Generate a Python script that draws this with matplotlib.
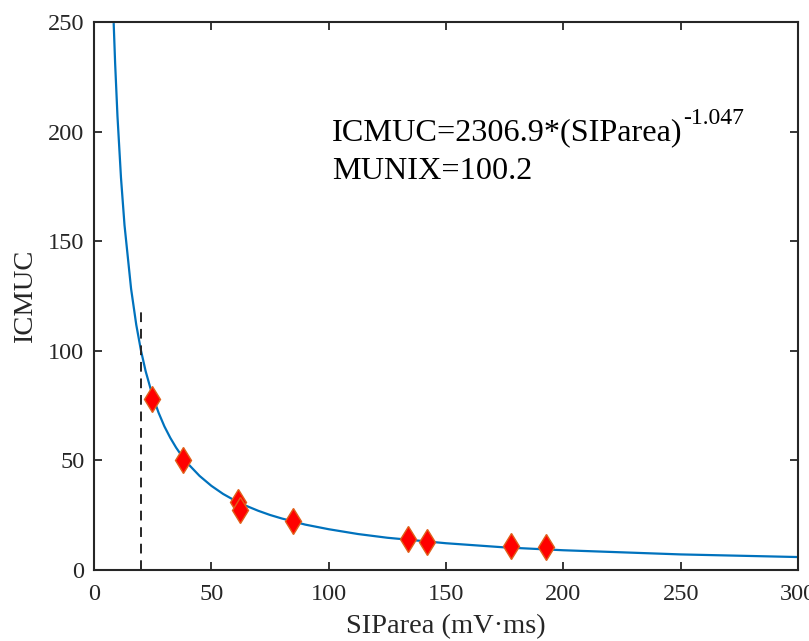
import matplotlib.pyplot as plt

plt.rcParams['font.family'] = ['Liberation Serif', 'DejaVu Serif']

# fitted curve
fit_x = [8.4, 9, 10, 11.5, 13, 15.8, 18, 20, 22, 25, 27.5, 30, 32.5, 35, 37.5,
         40, 45, 50, 55, 60, 65, 70, 75, 80, 90, 100, 112.5, 125, 150, 175,
         200, 250, 300]
fit_y = [249, 231.2, 207.0, 178.9, 157.3, 128.3, 111.9, 100.2, 90.7, 79.3, 71.8,
         65.5, 60.3, 55.8, 51.9, 48.5, 42.9, 38.4, 34.7, 31.7, 29.2, 27.0, 25.1,
         23.5, 20.7, 18.6, 16.4, 14.7, 12.2, 10.3, 9.0, 7.1, 5.9]

# measured points
siparea = [24.8, 38.0, 61.5, 62.3, 84.9, 133.6, 142.1, 177.5, 192.5]
icmuc = [78.0, 50.2, 31.0, 27.4, 22.4, 14.1, 12.8, 10.9, 10.5]

munix_x = 20
munix_top = 120

fig = plt.figure(figsize=(8.09, 6.41), dpi=100)
ax = fig.add_axes([0.1162, 0.1108, 0.8702, 0.8549])

ax.plot(fit_x, fit_y, color='#0072BD', lw=1.6)
ax.plot([munix_x, munix_x], [0, munix_top], color='#262626', lw=1.4,
        linestyle=(0, (5, 3.5)))
ax.plot(siparea, icmuc, linestyle='none', marker='d', markersize=13,
        markerfacecolor='#FF0000', markeredgecolor='#E0601A', markeredgewidth=1)

ax.set_xlim(0, 300)
ax.set_ylim(0, 250)

t = ax.text(101.5, 199.5, 'ICMUC=2306.9*(SIParea)', fontsize=23.2,
            color='black', va='center')
ax.annotate('-1.047', xy=(1, 0.5), xycoords=t, xytext=(0.5, 10.5),
            textcoords='offset points', fontsize=17, color='black',
            va='center', ha='left')
ax.text(101.5, 182, 'MUNIX=100.2', fontsize=23.2, color='black', va='center')

ax.set_xticks(range(0, 301, 50))
ax.set_yticks(range(0, 251, 50))
ax.tick_params(direction='in', top=True, right=True, length=6, width=1.3,
               labelsize=17.5, colors='#262626', labelcolor='#262626', pad=7)
ax.tick_params(axis='x', pad=10)
for s in ax.spines.values():
    s.set_linewidth(1.5)
    s.set_color('#262626')
ax.set_xlabel('SIParea (mV·ms)', fontsize=20.5, color='#262626', labelpad=7)
ax.set_ylabel('ICMUC', fontsize=20.5, color='#262626', labelpad=7)

fig.savefig('out.png', dpi=100)
